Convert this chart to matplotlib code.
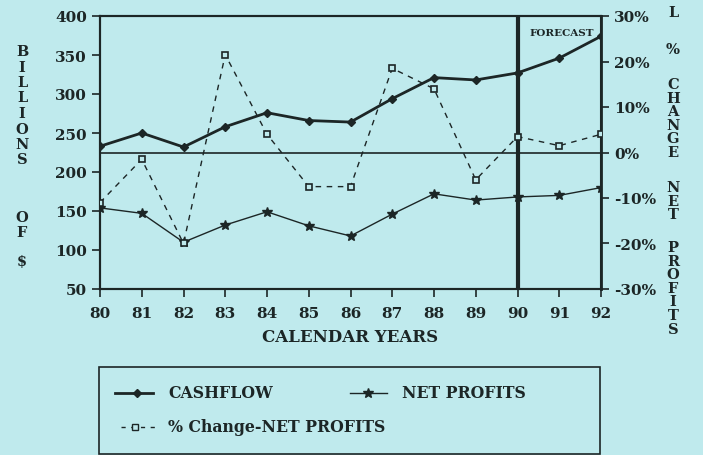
import matplotlib
matplotlib.use("Agg")
import matplotlib.pyplot as plt
from matplotlib.lines import Line2D
from matplotlib.patches import Rectangle

years = [80, 81, 82, 83, 84, 85, 86, 87, 88, 89, 90, 91, 92]
year_labels = ["80", "81", "82", "83", "84", "85", "86", "87", "88", "89", "90", "91", "92"]
cashflow = [233, 250, 232, 258, 276, 266, 264, 294, 321, 318, 327, 346, 374]
net_profits = [154, 147, 110, 132, 149, 131, 118, 146, 172, 164, 168, 170, 180]
pct_change = [-11, -1.5, -20, 21.5, 4, -7.5, -7.5, 18.5, 14, -6, 3.5, 1.5, 4]
left_ticks = [50, 100, 150, 200, 250, 300, 350, 400]
right_ticks = [-30, -20, -10, 0, 10, 20, 30]
forecast_year = 90

BG = "#bfeaed"
INK = "#1c2626"
FONT = "DejaVu Serif"
W, H = 703, 456

fig = plt.figure(figsize=(7.03, 4.56), dpi=100, facecolor=BG)
ax = fig.add_axes([100/W, 1-290/H, 501/W, 273/H])
ax.set_facecolor(BG)
ax2 = ax.twinx()

ax.plot(years, cashflow, color=INK, lw=2.0, marker="D", ms=4, mfc=INK, mec=INK, zorder=3)
ax.plot(years, net_profits, color=INK, lw=1.0, marker="*", ms=7, mfc=INK, mec=INK, zorder=3)
ax2.plot(years, pct_change, color=INK, lw=1.0, ls=(0, (4, 4)), marker="s", ms=5,
         mfc=BG, mec=INK, mew=1.2, zorder=3)
ax2.axhline(0, color=INK, lw=1.2)
ax.axvline(forecast_year, color=INK, lw=3, zorder=4)

ax.set_xlim(years[0], years[-1])
ax.set_ylim(50, 400)
ax2.set_ylim(-30, 30)
ax.set_xticks(years)
ax.set_xticklabels(year_labels)
ax.set_yticks(left_ticks)
ax2.set_yticks(right_ticks)
ax2.set_yticklabels([f"{t}%" for t in right_ticks])

for a in (ax, ax2):
    for s in a.spines.values():
        s.set_color(INK)
        s.set_linewidth(1.5)
    a.tick_params(colors=INK, direction="out", length=6, width=1.2, labelsize=11)
    for lbl in a.get_xticklabels() + a.get_yticklabels():
        lbl.set_fontfamily(FONT)
        lbl.set_fontweight("bold")
ax.spines["right"].set_linewidth(2)
ax.tick_params(axis="x", pad=6)

ax.set_xlabel("CALENDAR YEARS", fontfamily=FONT, fontweight="bold", fontsize=12, color=INK, labelpad=6)

ax.text(0.985, 0.955, "FORECAST", transform=ax.transAxes, ha="right", va="top",
        fontfamily=FONT, fontweight="bold", fontsize=7.5, color=INK)

def stacked(x, words, starts, step):
    for word, y0 in zip(words, starts):
        for i, ch in enumerate(word):
            fig.text(x/W, 1 - (y0 + i*step)/H, ch, ha="center", va="center", fontfamily=FONT,
                     fontweight="bold", fontsize=10.5, color=INK)

stacked(22, ["BILLIONS", "OF", "$"], [52, 218, 262], 15.5)
stacked(673, ["L", "%", "CHANGE", "NET", "PROFITS"], [13, 50, 85, 188, 248], 13.6)

# legend box drawn manually
def fy(y):
    return 1 - y/H
fig.add_artist(Rectangle((99/W, fy(455)), (600-99)/W, (455-368)/H, transform=fig.transFigure,
                         facecolor="none", edgecolor=INK, lw=1.2))
fig.add_artist(Line2D([115/W, 153/W], [fy(394), fy(394)], color=INK, lw=2))
fig.add_artist(Line2D([137/W], [fy(394)], color=INK, marker="D", ms=4))
fig.add_artist(Line2D([350/W, 387/W], [fy(394), fy(394)], color=INK, lw=1))
fig.add_artist(Line2D([368/W], [fy(394)], color=INK, marker="*", ms=7))
fig.add_artist(Line2D([121/W, 155/W], [fy(428), fy(428)], color=INK, lw=1, ls=(0, (3, 4))))
fig.add_artist(Line2D([135/W], [fy(428)], color=INK, marker="s", ms=5, mfc=BG, mec=INK))
leg_font = dict(fontfamily=FONT, fontweight="bold", fontsize=11.3, color=INK, va="center", ha="left")
fig.text(168/W, fy(394), "CASHFLOW", **leg_font)
fig.text(402/W, fy(394), "NET PROFITS", **leg_font)
fig.text(168/W, fy(428), "% Change-NET PROFITS", **leg_font)

fig.savefig("out.png", dpi=100, facecolor=BG)
